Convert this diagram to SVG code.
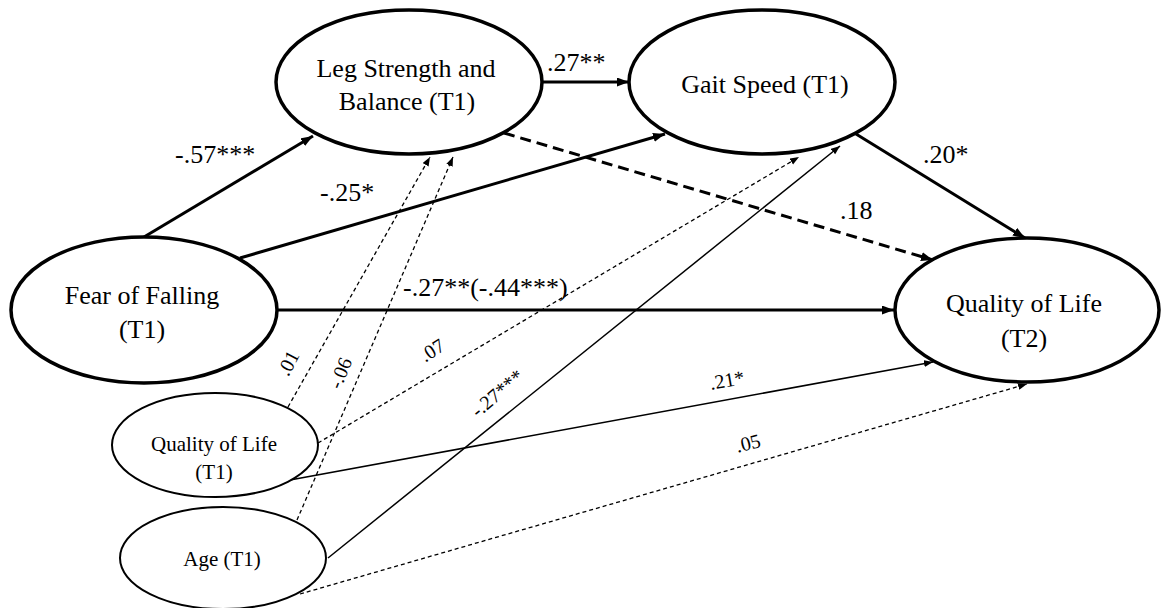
<svg xmlns="http://www.w3.org/2000/svg" width="1161" height="608" viewBox="0 0 1161 608">
<style>
text{font-family:"Liberation Serif","Times New Roman",serif;fill:#000}
.big{font-size:26px;text-anchor:middle}
.small{font-size:21px;text-anchor:middle}
.lbl{font-size:26px}
.lbs{font-size:20px;text-anchor:middle}
.n1{fill:#fff;stroke:#000;stroke-width:3.5}
.n2{fill:#fff;stroke:#000;stroke-width:2}
.thick{fill:none;stroke:#000;stroke-width:3;marker-end:url(#ah)}
.thickd{fill:none;stroke:#000;stroke-width:3;stroke-dasharray:11 6;marker-end:url(#ah)}
.thin{fill:none;stroke:#000;stroke-width:1.5;marker-end:url(#as)}
.thind{fill:none;stroke:#000;stroke-width:1.3;stroke-dasharray:4 3;marker-end:url(#as)}
</style>
<defs>
<marker id="ah" markerUnits="userSpaceOnUse" markerWidth="13" markerHeight="10" refX="12" refY="4.5" orient="auto"><path d="M0,0 L12,4.5 L0,9 z" fill="#000"/></marker>
<marker id="as" markerUnits="userSpaceOnUse" markerWidth="10" markerHeight="8" refX="9" refY="3.5" orient="auto"><path d="M0,0 L9,3.5 L0,7 z" fill="#000"/></marker>
</defs>
<rect width="1161" height="608" fill="#fff"/>
<g id="connectors">
<path class="thick" d="M144,237 L313,136"/>
<path class="thick" d="M240,258 L665,134"/>
<path class="thick" d="M277,310 L894,310"/>
<path class="thickd" d="M504,133 L933,260"/>
<path class="thick" d="M542,82 L629,82"/>
<path class="thick" d="M856,134 L1025,238"/>
<path class="thind" d="M288,407 L430,157"/>
<path class="thind" d="M297,520 L453,157"/>
<path class="thind" d="M318,443 L799,157"/>
<path class="thin" d="M328,558 L840,146"/>
<path class="thin" d="M290,480 L933,362"/>
<path class="thind" d="M300,594 L1027,384"/>
<text class="lbl" x="175" y="163">-.57***</text>
<text class="lbl" x="320" y="201">-.25*</text>
<text class="lbl" x="403" y="296">-.27**(-.44***)</text>
<text class="lbl" x="547" y="71">.27**</text>
<text class="lbl" x="923" y="163">.20*</text>
<text class="lbl" x="840" y="219">.18</text>
<text class="lbs" transform="translate(288,363) rotate(-62)" y="7">.01</text>
<text class="lbs" transform="translate(340,373) rotate(-68)" y="7">-.06</text>
<text class="lbs" transform="translate(432,350) rotate(-33)" y="7">.07</text>
<text class="lbs" transform="translate(497,393) rotate(-40)" y="7">-.27***</text>
<text class="lbs" transform="translate(727,380) rotate(-10)" y="7">.21*</text>
<text class="lbs" transform="translate(748,443) rotate(-14)" y="7">.05</text>
</g>
<g id="node-fof">
<ellipse class="n1" cx="144" cy="310" rx="133" ry="73"/>
<text class="big" x="142" y="304">Fear of Falling</text>
<text class="big" x="142" y="338">(T1)</text>
</g>
<g id="node-lsb">
<ellipse class="n1" cx="409" cy="82" rx="133" ry="72"/>
<text class="big" x="406" y="77">Leg Strength and</text>
<text class="big" x="407" y="110">Balance (T1)</text>
</g>
<g id="node-gait">
<ellipse class="n1" cx="762" cy="82" rx="133" ry="72"/>
<text class="big" x="765" y="93">Gait Speed (T1)</text>
</g>
<g id="node-qol2">
<ellipse class="n1" cx="1027" cy="310" rx="132" ry="72"/>
<text class="big" x="1024" y="312">Quality of Life</text>
<text class="big" x="1024" y="347">(T2)</text>
</g>
<g id="node-qol1">
<ellipse class="n2" cx="215" cy="445" rx="103" ry="52"/>
<text class="small" x="214" y="451">Quality of Life</text>
<text class="small" x="214" y="479">(T1)</text>
</g>
<g id="node-age">
<ellipse class="n2" cx="223" cy="558" rx="103" ry="51"/>
<text class="small" x="222" y="566">Age (T1)</text>
</g>
</svg>
